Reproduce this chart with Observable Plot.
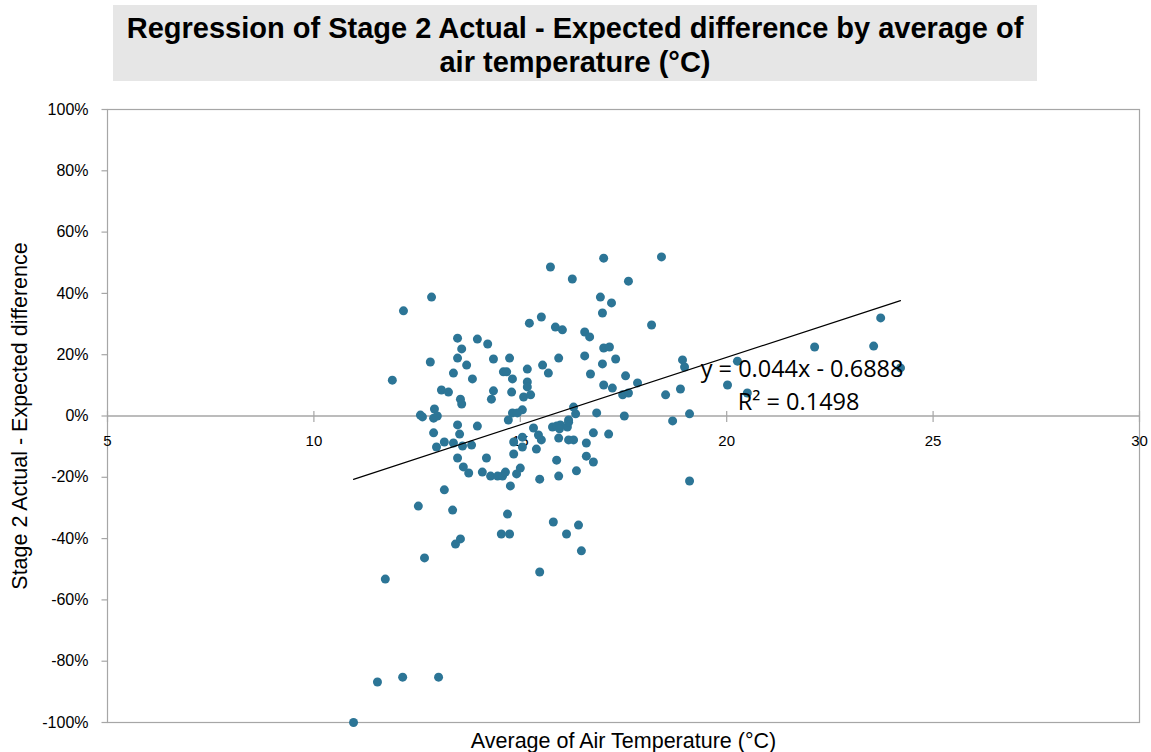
<!DOCTYPE html>
<html>
<head>
<meta charset="utf-8">
<script src="https://cdn.jsdelivr.net/npm/d3@7"></script>
<script src="https://cdn.jsdelivr.net/npm/@observablehq/plot@0.6"></script>
<style>
  html, body { margin: 0; padding: 0; background: #fff; }
  #wrap { width: 1151px; height: 752px; position: relative; }
  #titlebar { height: 90px; position: relative; }
  #title {
    position: absolute; left: 113px; top: 5px; width: 924px; height: 76px;
    background: #e6e6e6; color: #000; box-sizing: border-box; padding-top: 3px;
    font-family: "Liberation Sans", Arial, sans-serif; font-weight: bold; font-size: 29px;
    line-height: 34px; text-align: center; display: flex; align-items: center; justify-content: center;
  }
</style>
</head>
<body>
<div id="wrap">
  <div id="titlebar"><div id="title">Regression of Stage 2 Actual - Expected difference by average of<br>air temperature (°C)</div></div>
  <div id="chart"></div>
</div>
<script>
// Average air temperature (°C)
const temps = [
  12.85, 12.17, 13.48, 13.96, 14.21, 13.58, 15.22, 15.51, 13.48, 14.35,
  14.74, 12.82, 13.70, 15.17, 15.54, 13.38, 14.59, 14.67, 13.84, 14.81,
  11.90, 15.17, 15.17, 13.09, 13.26, 14.35, 14.79, 15.08, 15.25, 13.55,
  13.58, 14.30, 12.92, 12.58, 12.63, 12.99, 15.05, 14.81, 14.93, 14.71,
  15.73, 17.02, 18.42, 16.26, 17.62, 16.94, 17.21, 16.99, 15.85, 16.02,
  16.56, 16.68, 18.18, 17.02, 17.16, 15.93, 16.56, 17.31, 16.99, 18.93,
  18.98, 15.68, 16.70, 17.55, 17.02, 17.23, 17.84, 17.48, 17.62, 18.88,
  18.52, 16.29, 16.34, 16.85, 17.52, 19.10, 18.69, 16.17, 12.90, 13.48,
  13.96, 12.90, 13.53, 13.16, 13.38, 12.97, 13.60, 13.82, 14.84, 15.05,
  15.05, 15.32, 15.39, 13.48, 14.18, 14.84, 13.62, 13.75, 14.08, 14.28,
  14.45, 14.57, 14.64, 14.91, 15.00, 14.76, 15.47, 13.16, 12.53, 13.36,
  14.69, 14.54, 14.74, 13.43, 13.55, 12.68, 11.73, 15.47, 15.44, 15.51,
  15.78, 15.88, 15.97, 15.95, 16.14, 16.17, 15.93, 16.17, 16.29, 16.77,
  17.14, 16.60, 16.60, 16.77, 15.88, 15.93, 16.36, 19.10, 15.80, 16.12,
  16.41, 16.48, 23.73, 23.56, 22.13, 20.26, 24.21, 20.02, 20.50, 10.96,
  11.54, 12.15, 13.02
];
// Stage 2 Actual - Expected difference (fraction)
const diffs = [
  0.388, 0.343, 0.254, 0.251, 0.235, 0.219, 0.303, 0.323, 0.189, 0.186,
  0.189, 0.176, 0.166, 0.153, 0.166, 0.140, 0.144, 0.144, 0.121, 0.121,
  0.117, 0.111, 0.095, 0.085, 0.078, 0.082, 0.078, 0.062, 0.069, 0.055,
  0.039, 0.055, 0.023, 0.003, -0.003, 0.000, 0.020, 0.010, 0.010, -0.013,
  0.486, 0.515, 0.519, 0.447, 0.440, 0.388, 0.369, 0.336, 0.290, 0.281,
  0.274, 0.258, 0.297, 0.222, 0.225, 0.189, 0.196, 0.186, 0.170, 0.183,
  0.160, 0.140, 0.137, 0.131, 0.101, 0.091, 0.108, 0.069, 0.075, 0.088,
  0.069, 0.029, 0.007, 0.010, 0.000, 0.007, -0.016, -0.013, -0.007, -0.029,
  -0.033, -0.055, -0.059, -0.085, -0.088, -0.101, -0.098, -0.095, -0.085, -0.069,
  -0.101, -0.039, -0.108, -0.137, -0.137, -0.124, -0.166, -0.186, -0.183, -0.196,
  -0.196, -0.196, -0.183, -0.189, -0.170, -0.228, -0.206, -0.241, -0.294, -0.307,
  -0.320, -0.385, -0.385, -0.418, -0.401, -0.463, -0.532, -0.509, -0.062, -0.078,
  -0.036, -0.033, -0.029, -0.042, -0.036, -0.020, -0.072, -0.078, -0.078, -0.055,
  -0.059, -0.088, -0.131, -0.150, -0.144, -0.196, -0.179, -0.212, -0.346, -0.385,
  -0.356, -0.440, 0.320, 0.228, 0.225, 0.179, 0.157, 0.101, 0.075, -1.000,
  -0.868, -0.852, -0.852
];
const xTicks = [5, 10, 15, 20, 25, 30];
const yTicks = [-1, -0.8, -0.6, -0.4, -0.2, 0, 0.2, 0.4, 0.6, 0.8, 1];
const slope = 0.044, intercept = -0.6888, rSquared = 0.1498;
const eqLabel = "y = 0.044x - 0.6888";
const r2Label = "R² = 0.1498";
const xTitle = "Average of Air Temperature (°C)";
const yTitle = "Stage 2 Actual - Expected difference";

const points = temps.map((t, i) => ({t, d: diffs[i]}));
const tMin = d3.min(temps), tMax = d3.max(temps);
const trend = [tMin, tMax].map(t => ({t, d: slope * t + intercept}));

const grey = "#a6a6a6";
const font = "'Liberation Sans', Arial, sans-serif";
const pct = d3.format(".0%");
const pctLabel = d => pct(d).replace("\u2212", "-");
const vTick = {draw(ctx) { ctx.moveTo(0, -5); ctx.lineTo(0, 6); }};
const hTick = {draw(ctx) { ctx.moveTo(-6, 0); ctx.lineTo(0, 0); }};

const chart = Plot.plot({
  width: 1151,
  height: 662,
  marginTop: 19,
  marginBottom: 30,
  marginLeft: 107,
  marginRight: 12,
  style: {fontFamily: font, background: "#fff", color: "#000", overflow: "visible"},
  x: {domain: [5, 30], axis: null},
  y: {domain: [-1, 1], axis: null},
  marks: [
    Plot.frame({stroke: grey, strokeWidth: 1.2}),
    Plot.ruleY([0], {stroke: grey, strokeWidth: 1.6}),
    Plot.dot(xTicks, {x: d => d, y: 0, symbol: vTick, fill: "none", stroke: grey, strokeWidth: 1.2, r: 5}),
    Plot.dot(yTicks, {y: d => d, frameAnchor: "left", symbol: hTick, fill: "none", stroke: grey, strokeWidth: 1.2, r: 5}),
    Plot.text(yTicks, {y: d => d, frameAnchor: "left", dx: -19, textAnchor: "end", text: pctLabel, fontSize: 16, fill: "#000"}),
    Plot.text(xTicks, {x: d => d, y: 0, dy: 25, text: d => String(d), fontSize: 15, fill: "#000"}),
    Plot.dot(points, {x: "t", y: "d", r: 4.5, fill: "#2c7596", stroke: "none"}),
    Plot.line(trend, {x: "t", y: "d", stroke: "#000", strokeWidth: 1.2}),
    Plot.text([trend[1]], {x: "t", y: "d", dx: 3, dy: 69, textAnchor: "end", text: () => eqLabel, fontSize: 23.5, fill: "#000", fontFamily: "'Open Sans', sans-serif"}),
    Plot.text([trend[1]], {x: "t", y: "d", dx: -41, dy: 102, textAnchor: "end", text: () => r2Label, fontSize: 23.5, fill: "#000", fontFamily: "'Open Sans', sans-serif"}),
    Plot.text([xTitle], {frameAnchor: "bottom", dy: 19, lineAnchor: "middle", textAnchor: "middle", text: d => d, fontSize: 21.5, fill: "#000"}),
    Plot.text([yTitle], {frameAnchor: "left", dx: -87, rotate: -90, textAnchor: "middle", lineAnchor: "middle", text: d => d, fontSize: 21.5, fill: "#000"})
  ]
});
document.getElementById("chart").appendChild(chart);
</script>
</body>
</html>
